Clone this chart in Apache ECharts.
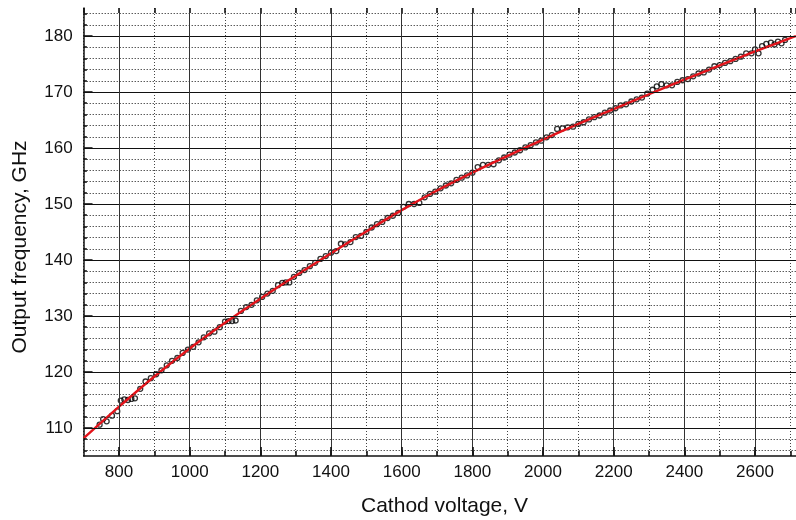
<!DOCTYPE html>
<html>
<head>
<meta charset="utf-8">
<script src="https://cdn.jsdelivr.net/npm/echarts@6/dist/echarts.min.js"></script>
<style>
html,body{margin:0;padding:0;background:#fff;}
#chart{width:796px;height:520px;}
</style>
</head>
<body>
<div id="chart"></div>
<script>
// ---- data ----
const xTitle = 'Cathod voltage, V';
const yTitle = 'Output frequency, GHz';
const xTickLabels = [800, 1000, 1200, 1400, 1600, 1800, 2000, 2200, 2400, 2600];
const yTickLabels = [110, 120, 130, 140, 150, 160, 170, 180];
const yMinorGrid = [106, 108, 112, 114, 116, 118, 122, 124, 126, 128, 132, 134, 136, 138, 142, 144, 146, 148,
                    152, 154, 156, 158, 162, 164, 166, 168, 172, 174, 176, 178, 182, 184];

// fitted curve (red)
const fitV = [700, 800, 900, 1000, 1100, 1200, 1300, 1400, 1500, 1600, 1700, 1800, 1900, 2000, 2100, 2200, 2300, 2400, 2500, 2600, 2700, 2716];
const fitF = [108.2, 113.8, 119.2, 124.2, 128.8, 133.1, 137.2, 141.2, 145.1, 148.9, 152.4, 155.6, 158.6, 161.5, 164.3, 166.95, 169.6, 172.2, 174.75, 177.25, 179.6, 180.0];

// measured points (black circles)
const measV = [745, 755, 765, 780, 795, 805, 815, 825, 835, 845, 860, 875, 890, 905, 920, 935, 950, 965, 980, 995,
  1010, 1025, 1040, 1055, 1070, 1085, 1100, 1110, 1120, 1130, 1145, 1160, 1175, 1190, 1205, 1220, 1235, 1250, 1262, 1272,
  1282, 1295, 1310, 1325, 1340, 1355, 1370, 1385, 1400, 1415, 1428, 1440, 1455, 1470, 1485, 1500, 1515, 1530, 1545, 1560,
  1575, 1590, 1605, 1620, 1635, 1650, 1665, 1680, 1695, 1710, 1725, 1740, 1755, 1770, 1785, 1800, 1815, 1830, 1845, 1860,
  1875, 1890, 1905, 1920, 1935, 1950, 1965, 1980, 1995, 2010, 2025, 2040, 2055, 2070, 2085, 2100, 2115, 2130, 2145, 2160,
  2175, 2190, 2205, 2220, 2235, 2250, 2265, 2280, 2295, 2310, 2322, 2335, 2350, 2365, 2380, 2395, 2410, 2425, 2440, 2455,
  2470, 2485, 2500, 2515, 2530, 2545, 2560, 2575, 2590, 2600, 2610, 2620, 2632, 2645, 2655, 2665, 2675, 2685];
const measF = [110.6, 111.6, 111.2, 112.2, 113.0, 114.9, 115.1, 115.0, 115.2, 115.3, 117.0, 118.3, 118.9, 119.6, 120.3, 121.2, 122.0, 122.5, 123.4, 124.0,
  124.5, 125.3, 126.2, 126.9, 127.2, 128.0, 129.0, 129.1, 129.1, 129.2, 130.9, 131.6, 132.0, 132.8, 133.4, 134.0, 134.5, 135.5, 135.9, 136.0,
  136.0, 137.0, 137.7, 138.2, 138.9, 139.5, 140.2, 140.7, 141.3, 141.6, 142.9, 142.8, 143.2, 144.1, 144.3, 145.0, 145.8, 146.4, 146.8, 147.5,
  147.9, 148.4, 149.5, 150.0, 150.0, 150.2, 151.2, 151.8, 152.2, 152.8, 153.3, 153.7, 154.3, 154.7, 155.1, 155.6, 156.6, 157.0, 157.0, 157.1,
  157.8, 158.3, 158.8, 159.2, 159.6, 160.1, 160.5, 161.0, 161.3, 161.9, 162.3, 163.4, 163.5, 163.7, 163.8, 164.3, 164.6, 165.1, 165.5, 165.8,
  166.3, 166.7, 167.1, 167.6, 167.8, 168.3, 168.7, 169.0, 169.7, 170.4, 171.0, 171.4, 171.2, 171.2, 171.8, 172.1, 172.3, 172.8, 173.3, 173.5,
  174.0, 174.6, 174.8, 175.2, 175.5, 175.9, 176.3, 176.9, 176.9, 177.6, 176.9, 178.2, 178.6, 178.8, 178.5, 179.0, 178.7, 179.3];

// ---- chart ----
const X_MIN = 700, X_MAX = 2716, Y_MIN = 105, Y_MAX = 185;
const FONT = '"Liberation Sans", Arial, sans-serif';

const fitData = fitV.map((v, i) => [v, fitF[i]]);
const measData = measV.map((v, i) => [v, measF[i]]);

const solidStyle = { type: 'solid', color: '#111', width: 1 };
const dotStyleH = { type: [1, 2], color: '#111', width: 1 };
const tickStyle = { type: 'solid', color: '#111', width: 1.6 };

const gridMarks = [];
yMinorGrid.forEach(v => gridMarks.push({ yAxis: v, lineStyle: dotStyleH }));
yTickLabels.forEach(v => gridMarks.push({ yAxis: v, lineStyle: solidStyle }));
xTickLabels.forEach(v => gridMarks.push({ xAxis: v, lineStyle: { type: 'solid', color: '#333', width: 1 } }));
// y ticks (inside)
yMinorGrid.forEach(v => gridMarks.push([{ coord: [X_MIN, v], lineStyle: tickStyle }, { coord: [X_MIN + 9, v] }]));
yTickLabels.forEach(v => gridMarks.push([{ coord: [X_MIN, v], lineStyle: tickStyle }, { coord: [X_MIN + 25, v] }]));
// x major ticks (bottom, longer)
xTickLabels.forEach(v => gridMarks.push([{ coord: [v, Y_MIN], lineStyle: tickStyle }, { coord: [v, Y_MIN + 1.6] }]));

const chart = echarts.init(document.getElementById('chart'), null, { renderer: 'canvas' });
chart.setOption({
  animation: false,
  backgroundColor: '#fff',
  grid: { left: 83.7, right: 0, top: 8, bottom: 64, containLabel: false },
  xAxis: [{
    type: 'value', min: X_MIN, max: X_MAX, interval: 100, position: 'bottom',
    axisLine: { show: true, onZero: false, lineStyle: { color: '#111', width: 1.5 } },
    axisTick: { show: true, inside: true, length: 5, lineStyle: { color: '#111', width: 1.6 } },
    axisLabel: {
      show: true, margin: 8, color: '#111', fontSize: 17, fontFamily: FONT,
      showMinLabel: false, showMaxLabel: false,
      formatter: v => (xTickLabels.indexOf(v) >= 0 ? String(v) : '')
    },
    splitLine: { show: true, lineStyle: { type: [1, 2], color: '#444', width: 1 } }
  }, {
    type: 'value', min: X_MIN, max: X_MAX, interval: 100, position: 'top',
    axisLine: { show: false },
    axisTick: { show: true, inside: true, length: 5, lineStyle: { color: '#111', width: 1.6 } },
    axisLabel: { show: false },
    splitLine: { show: false }
  }],
  yAxis: {
    type: 'value', min: Y_MIN, max: Y_MAX, interval: 5,
    axisLine: { show: true, onZero: false, lineStyle: { color: '#111', width: 1.5 } },
    axisTick: { show: false },
    axisLabel: {
      show: true, margin: 11, color: '#111', fontSize: 17, fontFamily: FONT,
      formatter: v => (yTickLabels.indexOf(v) >= 0 ? String(v) : '')
    },
    splitLine: { show: false }
  },
  graphic: [
    {
      type: 'text', x: 20.5, y: 247, rotation: Math.PI / 2, silent: true,
      style: { text: yTitle, font: '21px ' + FONT, fill: '#111', textAlign: 'center', textVerticalAlign: 'middle' }
    },
    {
      type: 'text', x: 444.5, y: 506, silent: true,
      style: { text: xTitle, font: '21px ' + FONT, fill: '#111', textAlign: 'center', textVerticalAlign: 'middle' }
    }
  ],
  series: [
    {
      name: 'grid', type: 'line', data: [], z: 1, silent: true,
      markLine: {
        silent: true, symbol: ['none', 'none'], label: { show: false }, animation: false,
        emphasis: { disabled: true },
        data: gridMarks
      }
    },
    {
      name: 'measured', type: 'scatter', data: measData, z: 3, silent: true,
      symbol: 'circle', symbolSize: 5,
      itemStyle: { color: 'rgba(255,255,255,0)', borderColor: '#000', borderWidth: 1.3 }
    },
    {
      name: 'fit', type: 'line', data: fitData, z: 4, silent: true,
      smooth: 0.2, showSymbol: false, symbol: 'none',
      lineStyle: { color: '#e3141b', width: 2.4 }
    }
  ]
});
</script>
</body>
</html>
